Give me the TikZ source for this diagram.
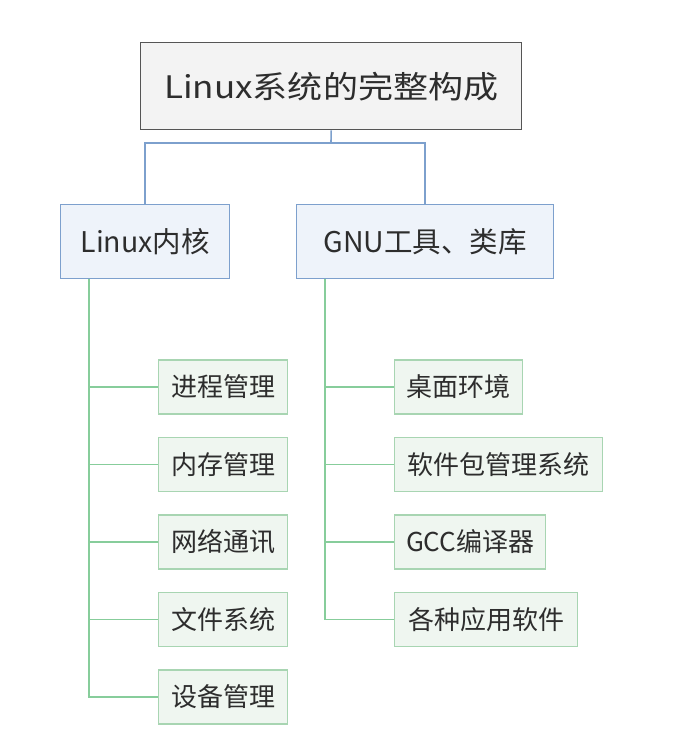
\documentclass[tikz,border=0pt]{standalone}
\usepackage{graphicx}
\usepackage{fontspec}
\setmainfont{Noto Sans CJK SC}
\usepackage{tikz}
\usetikzlibrary{positioning,calc}
\definecolor{rootline}{RGB}{85,85,85}
\definecolor{rootfill}{RGB}{243,243,243}
\definecolor{partline}{RGB}{125,160,205}
\definecolor{partfill}{RGB}{238,243,250}
\definecolor{leafline}{RGB}{168,213,178}
\definecolor{leaffill}{RGB}{239,246,240}
\definecolor{leafwire}{RGB}{135,205,155}
\definecolor{ink}{RGB}{45,45,45}

\begin{document}
\begin{tikzpicture}[x=1pt,y=-1pt,
  rootbox/.style={draw=rootline, fill=rootfill, line width=1.4pt, minimum width=381pt, minimum height=87pt, inner sep=0pt, text=ink, font=\fontsize{31}{31}\selectfont},
  partbox/.style={draw=partline, fill=partfill, line width=1.4pt, minimum height=74pt, inner sep=0pt, text=ink, font=\fontsize{28.5}{28.5}\selectfont},
  leafbox/.style={draw=leafline, fill=leaffill, line width=1.4pt, minimum height=54pt, inner sep=0pt, text=ink, font=\fontsize{26}{26}\selectfont},
  blueline/.style={draw=partline, line width=1.6pt},
  greenline/.style={draw=leafwire, line width=1.6pt}]
  \useasboundingbox (0,0) rectangle (678,748);
  \node[rootbox, anchor=north west] (root) at (140,42) {\scalebox{1.13}[1]{Linux系统的完整构成}};
  \node[partbox, minimum width=169pt, anchor=north west] (kernel) at (60,204) {Linux内核};
  \node[partbox, minimum width=257pt, anchor=north west] (gnu) at (296,204) {GNU工具、类库};
  % root splits into the two parts
  \coordinate (bus) at (331,143);
  \draw[blueline] (root.south) -- (bus);
  \draw[blueline] (kernel.north) |- (bus) -| (gnu.north);
  % kernel parts
  \foreach \txt [count=\i] in {进程管理,内存管理,网络通讯,文件系统,设备管理} {
    \node[leafbox, minimum width=129pt, anchor=west] (k\i) at (158,309.5+77.5*\i) {\txt};
    \draw[greenline] ($(kernel.south west)+(29,0)$) |- (k\i.west);
  }
  % gnu parts
  \foreach \txt/\w [count=\i] in {桌面环境/128,软件包管理系统/208,GCC编译器/151,各种应用软件/183} {
    \node[leafbox, minimum width=\w pt, anchor=west] (g\i) at (394,309.5+77.5*\i) {\txt};
    \draw[greenline] ($(gnu.south west)+(29,0)$) |- (g\i.west);
  }
\end{tikzpicture}
\end{document}
